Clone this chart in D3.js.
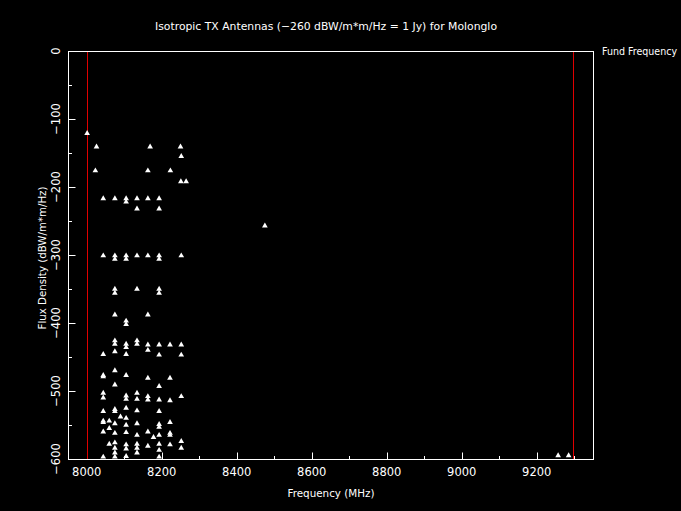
<!DOCTYPE html>
<html><head><meta charset="utf-8">
<script src="https://cdn.jsdelivr.net/npm/d3@7"></script>
<style>html,body{margin:0;padding:0;background:#000;}svg{display:block;}</style>
</head><body>
<script>
const titleText = "Isotropic TX Antennas (\u2212260 dBW/m*m/Hz = 1 Jy) for Molonglo";
const xLabel = "Frequency (MHz)";
const yLabel = "Flux Density (dBW/m*m/Hz)";
const legendLabel = "Fund Frequency";
const xTicks = [8000, 8200, 8400, 8600, 8800, 9000, 9200];
const yTicks = [0, -100, -200, -300, -400, -500, -600];
const fundFreqs = [8000, 9296];

// measured emissions: frequency (MHz) and flux density (dBW/m*m/Hz)
const freqs = [
  8001, 8026, 8169, 8250, 8252, 8023, 8163, 8223, 8251, 8265,
  8044, 8075, 8105, 8105, 8134, 8163, 8193, 8134, 8193,
  8475,
  8044, 8075, 8105, 8134, 8163, 8193, 8252, 8075, 8105, 8193,
  8075, 8134, 8193, 8075, 8193, 8075, 8163, 8105, 8105,
  8075, 8075, 8105, 8105, 8134, 8134, 8163, 8163, 8193, 8222, 8252,
  8044, 8075, 8105, 8193, 8252,
  8075, 8044, 8044, 8105, 8163, 8222, 8075, 8193,
  8044, 8134, 8044, 8105, 8105, 8134, 8163, 8163, 8193, 8222, 8252,
  8044, 8075, 8075, 8105, 8134, 8193,
  8044, 8044, 8060, 8075, 8090, 8105, 8105, 8134, 8193, 8193, 8222,
  8060, 8044, 8075, 8105, 8134, 8163, 8178, 8193, 8222, 8222,
  8252, 8060, 8075, 8105, 8105, 8134, 8163, 8193, 8222, 8252,
  8075, 8075, 8134, 8134, 8193,
  8044, 8075, 8105, 8193,
  9257, 9285
];
const fluxes = [
  -121, -141, -141, -141, -155, -176, -176, -176, -192, -192,
  -217, -217, -217, -222, -217, -217, -217, -232, -232,
  -257,
  -301, -301, -301, -301, -301, -301, -301, -306, -306, -306,
  -350, -350, -350, -356, -356, -388, -388, -397, -402,
  -426, -431, -431, -436, -426, -431, -432, -440, -432, -432, -432,
  -446, -442, -446, -447, -447,
  -470, -477, -479, -477, -481, -481, -491, -493,
  -503, -503, -510, -507, -512, -512, -508, -513, -513, -514, -508,
  -530, -527, -530, -525, -529, -530,
  -544, -546, -544, -548, -538, -540, -550, -548, -549, -553, -546,
  -555, -560, -562, -561, -565, -560, -568, -565, -562, -565,
  -574, -578, -576, -579, -585, -578, -581, -578, -579, -584,
  -584, -591, -584, -591, -587,
  -597, -597, -596, -597,
  -595, -595
];

(function () {
const W = 681, H = 511;
const mL = 68, mR = 593, mT = 51, mB = 459;
const svg = d3.select("body").append("svg").attr("width", W).attr("height", H)
  .style("background", "#000");
const font = "DejaVu Sans, sans-serif";

const x = d3.scaleLinear().domain([7950, 9350]).range([mL, mR]);
const y = d3.scaleLinear().domain([0, -600]).range([mT, mB]);

// frame
svg.append("rect").attr("x", mL + 0.5).attr("y", mT + 0.5)
  .attr("width", mR - mL).attr("height", mB - mT)
  .attr("fill", "none").attr("stroke", "#fff").attr("stroke-width", 1);

// bottom ticks (inside)
const xMinor = d3.range(8000, 9351, 100);
svg.append("g").selectAll("line").data(xMinor).join("line")
  .attr("x1", d => Math.round(x(d)) + 0.5).attr("x2", d => Math.round(x(d)) + 0.5)
  .attr("y1", mB + 0.5).attr("y2", d => mB + 0.5 - (d % 200 === 0 ? 7 : 3.5))
  .attr("stroke", "#fff").attr("stroke-width", 1);
// left ticks (inside)
const yMinor = d3.range(0, -601, -50);
svg.append("g").selectAll("line").data(yMinor).join("line")
  .attr("y1", d => Math.round(y(d)) + 0.5).attr("y2", d => Math.round(y(d)) + 0.5)
  .attr("x1", mL + 0.5).attr("x2", d => mL + 0.5 + (d % 100 === 0 ? 7 : 3.5))
  .attr("stroke", "#fff").attr("stroke-width", 1);

// x tick labels
svg.append("g").selectAll("text").data(xTicks).join("text")
  .attr("x", d => x(d)).attr("y", 476)
  .attr("text-anchor", "middle").attr("fill", "#fff")
  .attr("font-family", font).attr("font-size", 11.5)
  .text(d => d);
// y tick labels (rotated)
svg.append("g").selectAll("text").data(yTicks).join("text")
  .attr("transform", d => `translate(60,${y(d)}) rotate(-90)`)
  .attr("text-anchor", "middle").attr("fill", "#fff")
  .attr("font-family", font).attr("font-size", 11.5)
  .text(d => d < 0 ? "\u2212" + Math.abs(d) : d);

// fundamental frequency lines
svg.append("g").selectAll("line").data(fundFreqs).join("line")
  .attr("x1", d => Math.round(x(d)) + 0.5).attr("x2", d => Math.round(x(d)) + 0.5)
  .attr("y1", mT + 1).attr("y2", mB)
  .attr("stroke", "#e00000").attr("stroke-width", 1);

// points
const pts = freqs.map((f, i) => ({f, v: fluxes[i]}));
const tri = d3.symbol().type(d3.symbolTriangle).size(14);
svg.append("g").selectAll("path").data(pts).join("path")
  .attr("d", tri)
  .attr("transform", d => `translate(${x(d.f)},${y(d.v)})`)
  .attr("fill", "#fff");

// title & labels
svg.append("text").attr("x", 326).attr("y", 30).attr("text-anchor", "middle")
  .attr("fill", "#fff").attr("font-family", font).attr("font-size", 10.5)
  .attr("textLength", 342).attr("lengthAdjust", "spacingAndGlyphs")
  .text(titleText);
svg.append("text").attr("x", 331).attr("y", 497).attr("text-anchor", "middle")
  .attr("fill", "#fff").attr("font-family", font).attr("font-size", 10.5)
  .attr("textLength", 87).attr("lengthAdjust", "spacingAndGlyphs")
  .text(xLabel);
svg.append("text").attr("transform", "translate(46,258) rotate(-90)")
  .attr("text-anchor", "middle")
  .attr("fill", "#fff").attr("font-family", font).attr("font-size", 10.5)
  .attr("textLength", 143).attr("lengthAdjust", "spacingAndGlyphs")
  .text(yLabel);
svg.append("text").attr("x", 602).attr("y", 54.5)
  .attr("fill", "#fff").attr("font-family", font).attr("font-size", 10)
  .attr("textLength", 75).attr("lengthAdjust", "spacingAndGlyphs")
  .text(legendLabel);
})();
</script>
</body></html>
